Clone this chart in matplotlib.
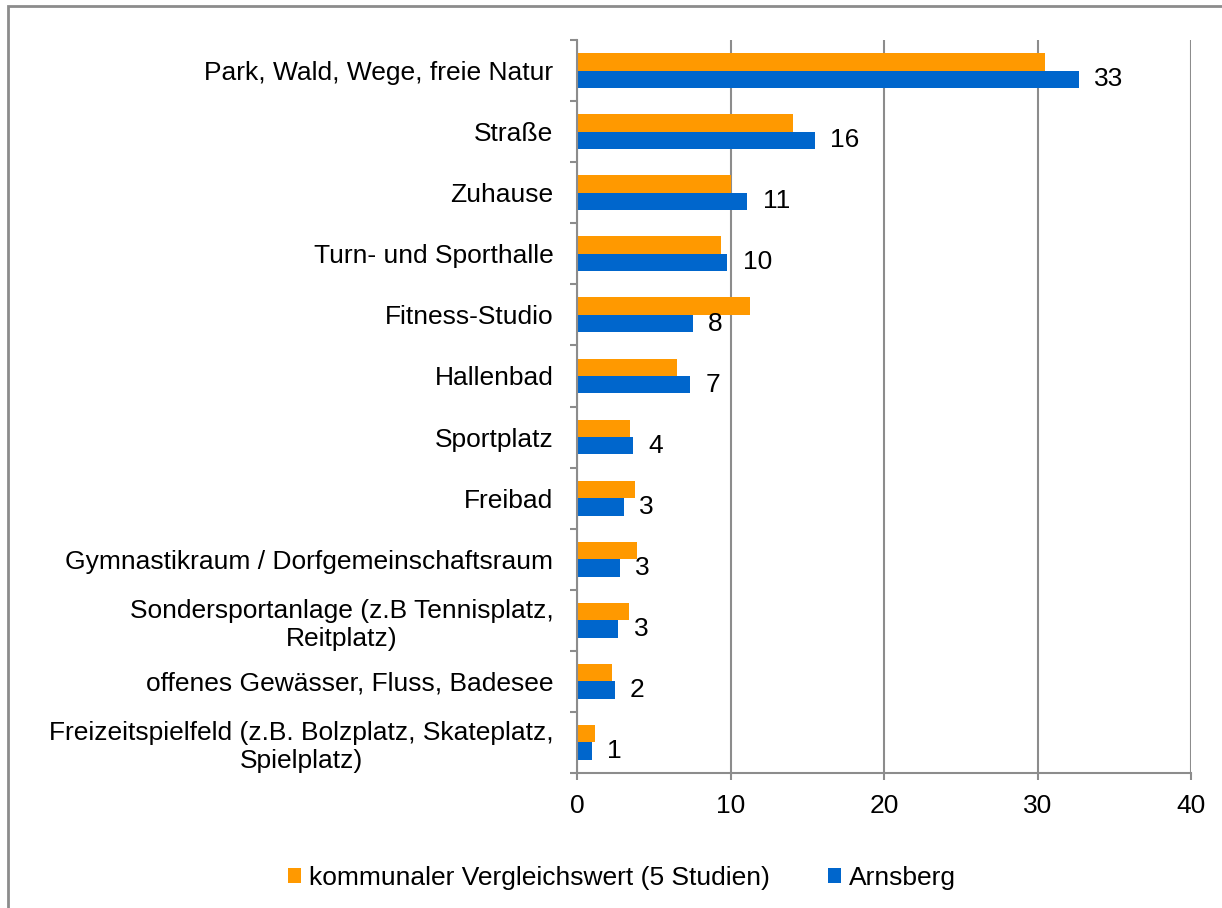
import matplotlib.pyplot as plt
from matplotlib.patches import Rectangle
import numpy as np

plt.rcParams['font.family'] = ['Liberation Sans', 'DejaVu Sans']

# --- data (top to bottom as shown) ---
categories = [
    "Park, Wald, Wege, freie Natur",
    "Straße",
    "Zuhause",
    "Turn- und Sporthalle",
    "Fitness-Studio",
    "Hallenbad",
    "Sportplatz",
    "Freibad",
    "Gymnastikraum / Dorfgemeinschaftsraum",
    "Sondersportanlage (z.B Tennisplatz,\nReitplatz)",
    "offenes Gewässer, Fluss, Badesee",
    "Freizeitspielfeld (z.B. Bolzplatz, Skateplatz,\nSpielplatz)",
]
vergleich = [30.5, 14.1, 10.05, 9.35, 11.25, 6.5, 3.43, 3.78, 3.93, 3.37, 2.26, 1.16]
arnsberg = [32.7, 15.5, 11.1, 9.79, 7.56, 7.36, 3.67, 3.04, 2.78, 2.69, 2.46, 0.99]
arnsberg_labels = ["33", "16", "11", "10", "8", "7", "4", "3", "3", "3", "2", "1"]

ORANGE = "#FF9900"
BLUE = "#0066CC"
GREY = "#8C8C8C"
FS = 19

fig = plt.figure(figsize=(12.22, 9.08), dpi=100)
ax = fig.add_axes([577 / 1222, 1 - 773 / 908, (1191 - 577) / 1222, (773 - 40) / 908])

n = len(categories)
y = np.arange(n)
h = 0.285

ax.barh(y - h / 2, vergleich, height=h, color=ORANGE, label="kommunaler Vergleichswert (5 Studien)")
ax.barh(y + h / 2, arnsberg, height=h, color=BLUE, label="Arnsberg")

# value labels after blue bars
for yi, v, lab in zip(y, arnsberg, arnsberg_labels):
    ax.annotate(lab, xy=(v, yi + h / 2), xytext=(11, 0), textcoords="offset points",
                ha="left", va="center", fontsize=FS, color="black")

ax.set_ylim(n - 0.5, -0.5)
ax.set_xlim(0, 40)
ax.set_xticks([0, 10, 20, 30, 40])
ax.tick_params(axis="x", labelsize=FS, length=5, color=GREY, width=1.5, pad=10)

# category boundaries as ticks, labels as minor ticks
ax.set_yticks(np.arange(-0.5, n, 1))
ax.set_yticklabels([])
ax.tick_params(axis="y", which="major", length=5, color=GREY, width=1.5)
ax.set_yticks(y, minor=True)
ax.set_yticklabels(categories, minor=True, fontsize=FS, multialignment="center")
ax.tick_params(axis="y", which="minor", length=0, pad=17)

ax.grid(axis="x", color=GREY, linewidth=1.5)
ax.set_axisbelow(True)
for s in ["top", "right"]:
    ax.spines[s].set_visible(False)
for s in ["left", "bottom"]:
    ax.spines[s].set_color(GREY)
    ax.spines[s].set_linewidth(1.5)

ax.legend(loc="center", bbox_to_anchor=(0.5 + 11 / 1222, 1 - 878 / 908), bbox_transform=fig.transFigure,
          ncol=2, frameon=False, fontsize=FS, handlelength=0.5, handleheight=0.5,
          handletextpad=0.3, columnspacing=2.2)

# outer frame (right/bottom edges fall outside the image)
fig.patches.append(Rectangle((8 / 1222, -0.1), 1.2, 1 - 6 / 908 + 0.1, transform=fig.transFigure,
                             fill=False, edgecolor=GREY, linewidth=2))

fig.savefig("out.png", dpi=100)
